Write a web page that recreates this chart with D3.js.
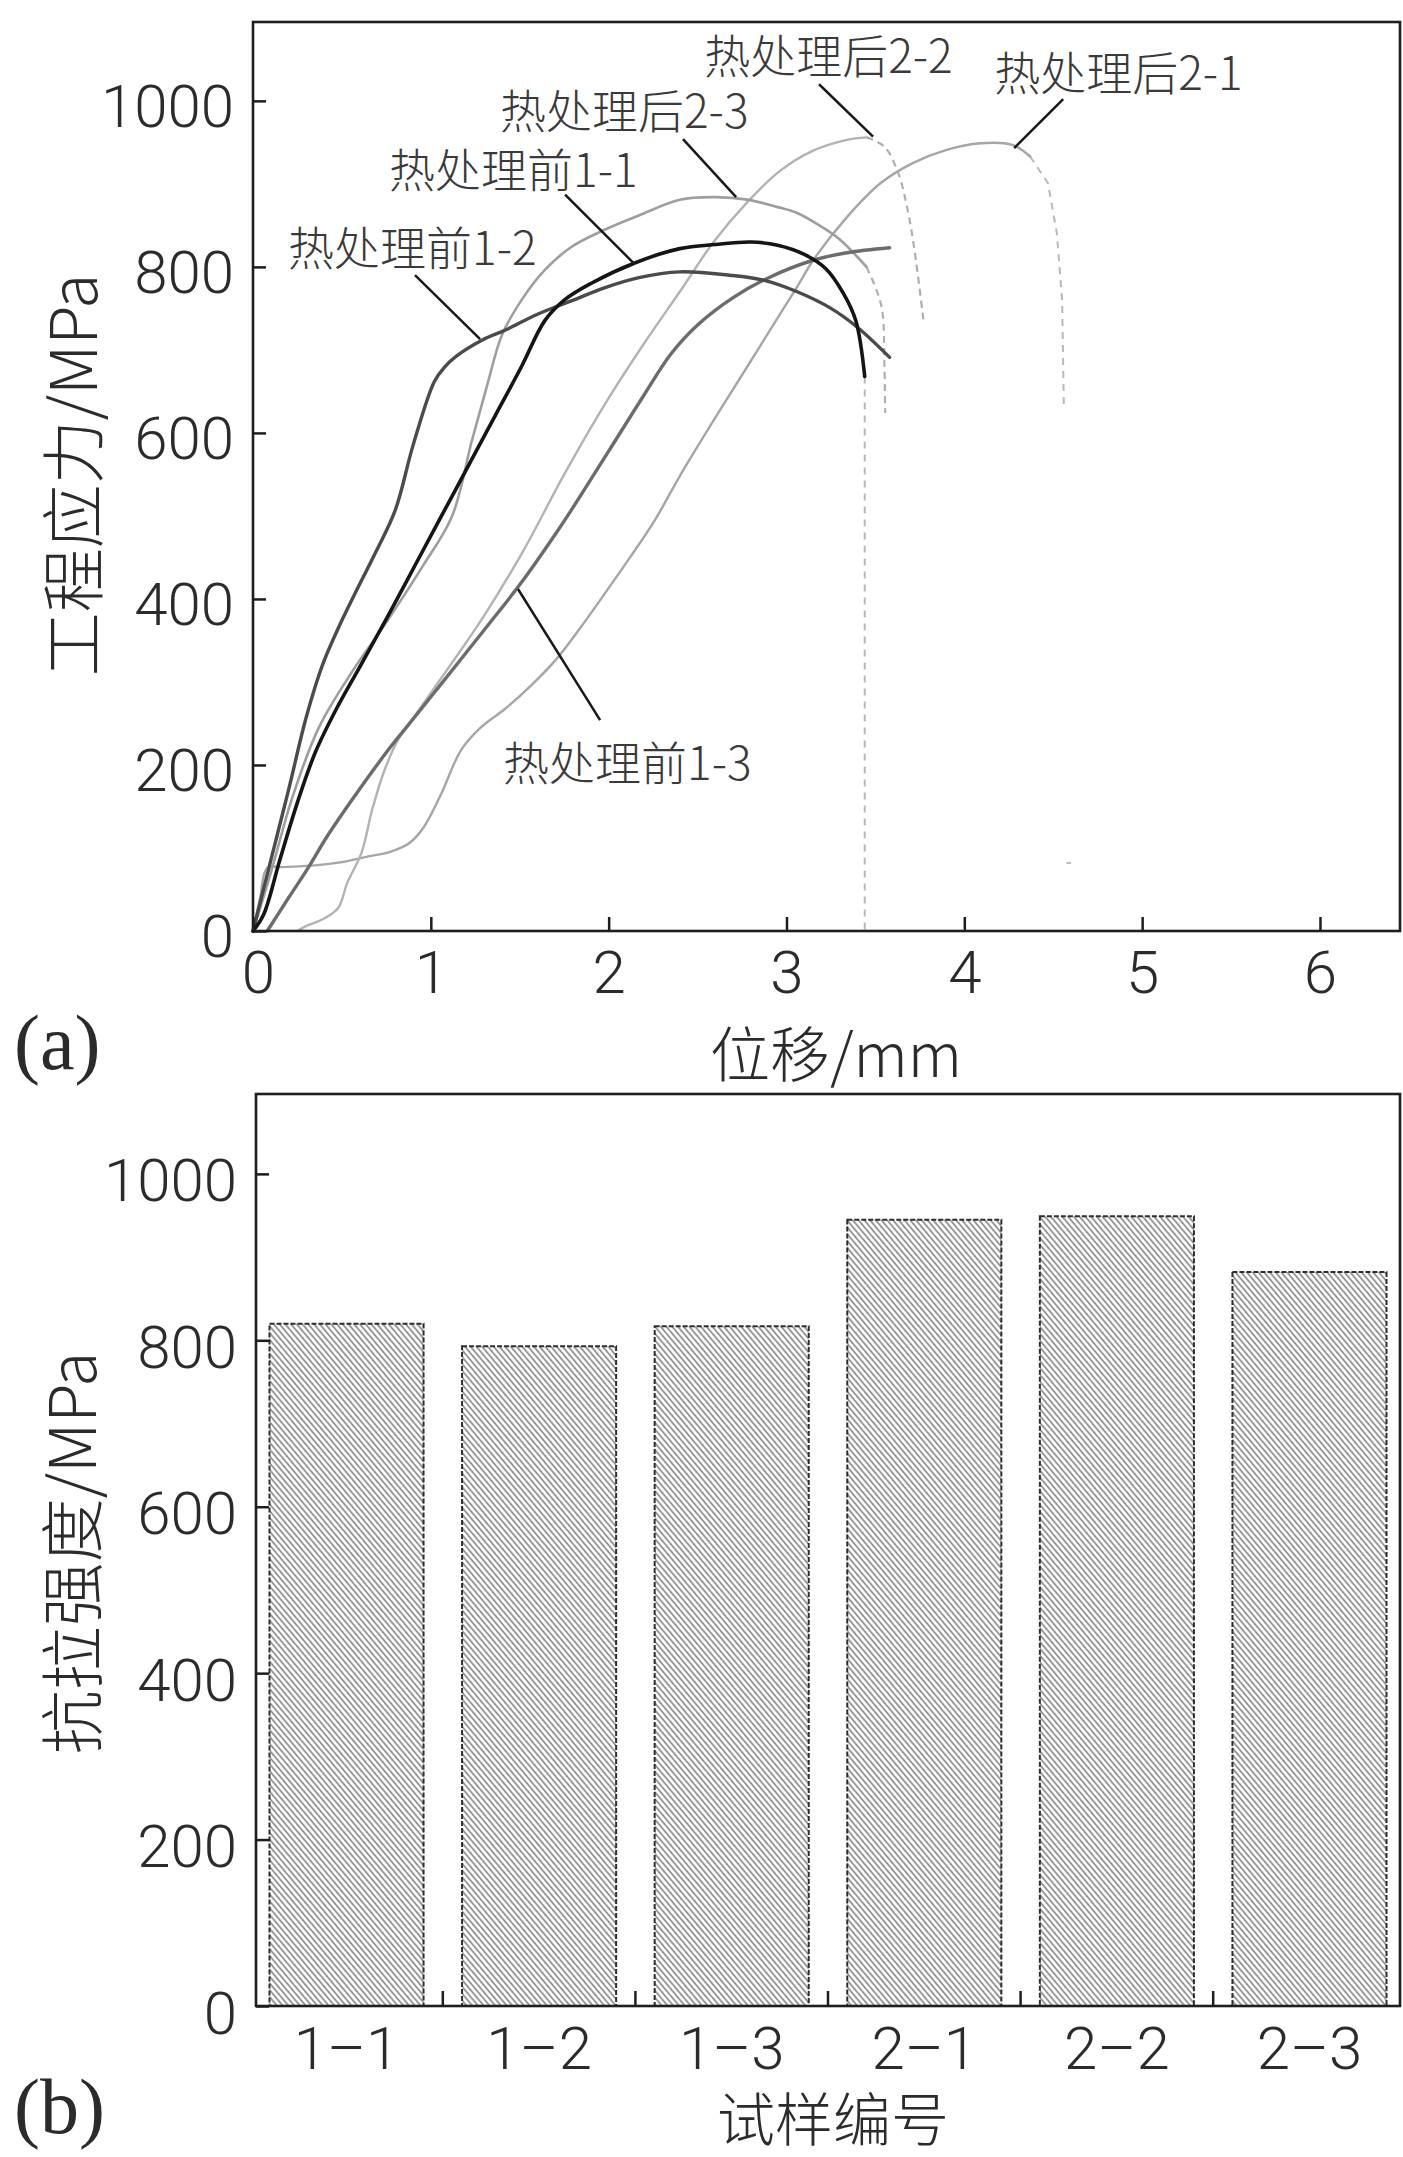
<!DOCTYPE html>
<html lang="zh">
  <head>
    <meta charset="UTF-8" />
    <title>热处理前后拉伸曲线与抗拉强度</title>
    <script src="https://d3js.org/d3.v7.min.js"></script>
    <style>
      body {
        margin: 0;
        padding: 0;
        background: #ffffff;
      }
      .tick text {
        font-family: Roboto, "Liberation Sans", sans-serif;
        font-weight: 300;
        font-size: 60px;
        fill: #2b2b2b;
      }
      .cjk {
        font-family: "Noto Sans CJK SC", sans-serif;
        font-weight: 300;
      }
    </style>
  </head>
  <body>
    <svg id="fig" width="1403" height="2157"></svg>

    <script>
      // ---- data: (a) load-displacement curves [displacement mm, stress MPa]
      var curve11 = [[0,0],[0.06,20],[0.15,85],[0.25,155],[0.35,215],[0.47,268],[0.6,318],[0.76,380],[0.91,440],[1.06,500],[1.21,560],[1.36,620],[1.51,680],[1.64,735],[1.75,760],[1.9,780],[2.15,805],[2.4,822],[2.6,827],[2.8,830],[2.95,826],[3.1,815],[3.22,798],[3.32,768],[3.39,735],[3.44,668]];
      var curve12 = [[0,0],[0.1,85],[0.2,170],[0.3,258],[0.39,320],[0.48,365],[0.57,405],[0.68,452],[0.8,507],[0.9,585],[1.02,662],[1.08,680],[1.14,692],[1.29,712],[1.42,724],[1.6,743],[1.79,759],[1.98,775],[2.17,787],[2.4,794],[2.68,790],[2.87,784],[3.06,770],[3.25,750],[3.4,727],[3.58,691]];
      var curve13 = [[0.08,0],[0.2,40],[0.31,76],[0.42,115],[0.57,162],[0.76,218],[0.85,242],[1.06,298],[1.32,368],[1.51,420],[1.7,478],[1.79,507],[2.0,578],[2.2,646],[2.35,695],[2.5,730],[2.7,763],[2.9,787],[3.15,808],[3.34,817],[3.58,823]];
      var curve21 = [[0,0],[0.04,40],[0.08,76],[0.16,77],[0.35,79],[0.5,83],[0.63,89],[0.78,96],[0.88,106],[0.96,125],[1.06,166],[1.17,218],[1.28,245],[1.42,268],[1.56,295],[1.7,326],[1.84,365],[1.98,407],[2.12,450],[2.26,495],[2.4,548],[2.59,615],[2.78,680],[2.96,742],[3.06,776],[3.15,808],[3.34,860],[3.53,901],[3.71,925],[3.9,941],[4.09,949],[4.27,947],[4.37,933]];
      var curve22 = [[0.25,0],[0.29,5],[0.4,15],[0.48,28],[0.53,58],[0.61,94],[0.67,146],[0.74,194],[0.82,232],[0.9,256],[1.06,305],[1.3,380],[1.52,458],[1.75,550],[1.98,635],[2.2,708],[2.4,770],[2.59,830],[2.78,878],[2.96,915],[3.15,940],[3.34,953],[3.45,956]];
      var curve23 = [[0,0],[0.1,70],[0.22,160],[0.37,245],[0.55,310],[0.75,372],[0.95,438],[1.12,500],[1.23,590],[1.32,660],[1.4,718],[1.51,760],[1.64,796],[1.79,824],[1.98,845],[2.17,862],[2.4,881],[2.6,884],[2.78,881],[2.95,872],[3.06,865],[3.2,848],[3.3,833],[3.45,800]];

      // fracture tails (drawn dashed)
      var tail11 = [[3.44,668],[3.44,0]];
      var tail21 = [[4.37,933],[4.47,901],[4.52,841],[4.55,760],[4.56,628]];
      var tail21b = [[4.575,82],[4.6,82]];
      var tail22 = [[3.45,956],[3.55,945],[3.63,912],[3.68,870],[3.72,820],[3.77,736]];
      var tail23 = [[3.45,800],[3.51,770],[3.54,745],[3.55,690],[3.555,624]];

      var xTicksA = [0, 1, 2, 3, 4, 5, 6];
      var yTicks = [0, 200, 400, 600, 800, 1000];

      // annotation labels: text, label anchor [x, y], leader [from, to]
      var labelNames = ["热处理前1-2", "热处理前1-1", "热处理后2-3", "热处理后2-2", "热处理后2-1", "热处理前1-3"];
      var labelAt = [[0.197, 826], [0.765, 920], [1.389, 991], [2.537, 1058], [4.168, 1037], [1.406, 206]];
      var leaders = [
        [[0.911, 790], [1.277, 713]],
        [[1.755, 887], [2.143, 804]],
        [[2.418, 954], [2.717, 884]],
        [[3.183, 1020], [3.487, 957]],
        [[4.556, 1002], [4.28, 943]],
        [[1.49, 412], [1.952, 254]]
      ];

      // ---- data: (b) tensile strength
      var sampleIds = ["1–1", "1–2", "1–3", "2–1", "2–2", "2–3"];
      var strength = [820, 793, 817, 945, 949, 882];

      var svg = d3.select("#fig");

      // hatch pattern for bars
      var defs = svg.append("defs");
      var pat = defs.append("pattern")
        .attr("id", "hatch")
        .attr("patternUnits", "userSpaceOnUse")
        .attr("width", 4.4)
        .attr("height", 10)
        .attr("patternTransform", "rotate(-40)");
      pat.append("rect").attr("width", 4.4).attr("height", 10).attr("fill", "#ffffff");
      pat.append("line")
        .attr("x1", 1).attr("y1", 0).attr("x2", 1).attr("y2", 10)
        .attr("stroke", "#8c8c8c").attr("stroke-width", 1.7);

      // =============== (a) ===============
      var xA = d3.scaleLinear().domain([0, 6.45]).range([253, 1400]);
      var yA = d3.scaleLinear().domain([0, 1095]).range([931, 22]);

      var line = d3.line()
        .x(function (d) { return xA(d[0]); })
        .y(function (d) { return yA(d[1]); })
        .curve(d3.curveCatmullRom.alpha(0.5));

      var straight = d3.line()
        .x(function (d) { return xA(d[0]); })
        .y(function (d) { return yA(d[1]); });

      var gA = svg.append("g");

      // dashed fracture tails first
      [tail11, tail21, tail21b].forEach(function (t) {
        gA.append("path").attr("d", straight(t)).attr("fill", "none")
          .attr("stroke", "#b9b9b9").attr("stroke-width", 2)
          .attr("stroke-dasharray", "7,6");
      });
      [tail22, tail23].forEach(function (t) {
        gA.append("path").attr("d", line(t)).attr("fill", "none")
          .attr("stroke", "#b0b0b0").attr("stroke-width", 2.2)
          .attr("stroke-dasharray", "7,5");
      });

      var series = [
        { pts: curve21, color: "#a6a6a6", w: 2.4 },
        { pts: curve22, color: "#b3b3b3", w: 2.4 },
        { pts: curve23, color: "#9e9e9e", w: 2.6 },
        { pts: curve13, color: "#6c6c6c", w: 3.4 },
        { pts: curve12, color: "#4b4b4b", w: 3.4 },
        { pts: curve11, color: "#151515", w: 3.6 }
      ];
      series.forEach(function (s) {
        gA.append("path")
          .attr("d", line(s.pts))
          .attr("fill", "none")
          .attr("stroke", s.color)
          .attr("stroke-width", s.w)
          .attr("stroke-linejoin", "round")
          .attr("stroke-linecap", "round");
      });

      // leaders and labels
      leaders.forEach(function (l) {
        gA.append("line")
          .attr("x1", xA(l[0][0])).attr("y1", yA(l[0][1]))
          .attr("x2", xA(l[1][0])).attr("y2", yA(l[1][1]))
          .attr("stroke", "#1a1a1a").attr("stroke-width", 2.5);
      });
      labelNames.forEach(function (t, i) {
        gA.append("text")
          .attr("class", "cjk")
          .attr("x", xA(labelAt[i][0]))
          .attr("y", yA(labelAt[i][1]))
          .attr("dominant-baseline", "central")
          .attr("font-size", 46)
          .attr("fill", "#3a3a3a")
          .text(t);
      });

      // axes (ticks inward)
      var axA_left = d3.axisLeft(yA).tickValues(yTicks)
        .tickSizeInner(-13).tickSizeOuter(0).tickPadding(19)
        .tickFormat(d3.format("d"));
      var gAleft = gA.append("g").attr("transform", "translate(253,0)").call(axA_left);

      var axA_bottom = d3.axisBottom(xA).tickValues(xTicksA)
        .tickSizeInner(-14).tickSizeOuter(0).tickPadding(19)
        .tickFormat(d3.format("d"));
      var gAbottom = gA.append("g").attr("transform", "translate(0,931)").call(axA_bottom);
      gAbottom.selectAll(".tick text").attr("x", function (d) { return d === 0 ? 5 : 0; });

      // frame
      gA.append("rect")
        .attr("x", 253).attr("y", 22)
        .attr("width", 1400 - 253).attr("height", 931 - 22)
        .attr("fill", "none").attr("stroke", "#1e1e1e").attr("stroke-width", 2.6);

      gA.append("text").attr("class", "cjk")
        .attr("transform", "translate(69,475) rotate(-90)")
        .attr("text-anchor", "middle").attr("dominant-baseline", "central")
        .attr("font-size", 64).attr("fill", "#2b2b2b")
        .text("工程应力/MPa");

      gA.append("text").attr("class", "cjk")
        .attr("x", 836).attr("y", 1050)
        .attr("text-anchor", "middle").attr("dominant-baseline", "central")
        .attr("font-size", 60).attr("fill", "#2b2b2b")
        .text("位移/mm");

      gA.append("text")
        .attr("x", 14).attr("y", 1069)
        .attr("font-family", "'Liberation Serif', 'DejaVu Serif', serif")
        .attr("font-size", 78).attr("fill", "#2b2b2b")
        .text("(a)");

      // =============== (b) ===============
      var xB = d3.scaleBand().domain(sampleIds).range([256, 1400])
        .paddingInner(0.2).paddingOuter(0.07);
      var yB = d3.scaleLinear().domain([0, 1096]).range([2006, 1094]);

      var gB = svg.append("g");

      gB.selectAll("rect.bar")
        .data(strength)
        .enter()
        .append("rect")
        .attr("class", "bar")
        .attr("x", function (d, i) { return xB(sampleIds[i]); })
        .attr("y", function (d) { return yB(d); })
        .attr("width", xB.bandwidth())
        .attr("height", function (d) { return yB(0) - yB(d); })
        .attr("fill", "url(#hatch)")
        .attr("stroke", "#2e2e2e")
        .attr("stroke-width", 2)
        .attr("stroke-dasharray", "5,2");

      var axB_left = d3.axisLeft(yB).tickValues(yTicks)
        .tickSizeInner(-13).tickSizeOuter(0).tickPadding(19)
        .tickFormat(d3.format("d"));
      var gBleft = gB.append("g").attr("transform", "translate(256,0)").call(axB_left);

      var axB_bottom = d3.axisBottom(xB).tickSize(0).tickPadding(20);
      gB.append("g").attr("transform", "translate(0,2006)").call(axB_bottom);

      // small inward ticks between bars
      gB.selectAll("line.sep")
        .data(sampleIds.slice(0, sampleIds.length - 1))
        .enter()
        .append("line")
        .attr("class", "sep")
        .attr("x1", function (d) { return xB(d) + xB.bandwidth() + xB.step() * xB.paddingInner() / 2; })
        .attr("x2", function (d) { return xB(d) + xB.bandwidth() + xB.step() * xB.paddingInner() / 2; })
        .attr("y1", 2006).attr("y2", 1991)
        .attr("stroke", "#1e1e1e").attr("stroke-width", 2.5);

      gB.append("rect")
        .attr("x", 256).attr("y", 1094)
        .attr("width", 1400 - 256).attr("height", 2006 - 1094)
        .attr("fill", "none").attr("stroke", "#1e1e1e").attr("stroke-width", 2.6);

      gB.append("text").attr("class", "cjk")
        .attr("transform", "translate(68,1553) rotate(-90)")
        .attr("text-anchor", "middle").attr("dominant-baseline", "central")
        .attr("font-size", 64).attr("fill", "#2b2b2b")
        .text("抗拉强度/MPa");

      gB.append("text").attr("class", "cjk")
        .attr("x", 833).attr("y", 2116)
        .attr("text-anchor", "middle").attr("dominant-baseline", "central")
        .attr("font-size", 58).attr("fill", "#2b2b2b")
        .text("试样编号");

      gB.append("text")
        .attr("x", 14).attr("y", 2133)
        .attr("font-family", "'Liberation Serif', 'DejaVu Serif', serif")
        .attr("font-size", 78).attr("fill", "#2b2b2b")
        .text("(b)");

      // axis styling: tick lines, left labels a little lower like the original
      svg.selectAll(".domain").remove();
      svg.selectAll(".tick line").attr("stroke", "#1e1e1e").attr("stroke-width", 2.5);
      gAleft.selectAll(".tick text").attr("dy", "0.42em");
      gBleft.selectAll(".tick text").attr("dy", "0.45em");
    </script>
  </body>
</html>
